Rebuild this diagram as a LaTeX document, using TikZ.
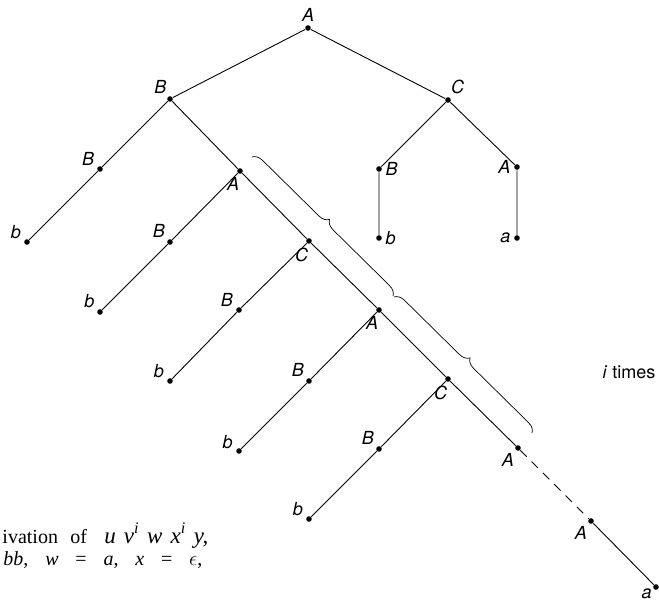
\documentclass[tikz,border=0pt]{standalone}
\usepackage{fontspec}
\setmainfont{TeX Gyre Heros}
\newfontfamily\capfont{Liberation Serif}
\usetikzlibrary{decorations.pathreplacing}
\tikzset{
 vtx/.style={circle,fill,inner sep=0pt,minimum size=5.6pt},
 lbl/.style={font=\fontsize{18}{20}\selectfont\itshape,inner sep=0pt,label distance=3pt},
 brc/.style={decorate,decoration={brace,amplitude=10pt}},
 captxt/.style={anchor=base west,inner sep=0pt,font=\capfont\fontsize{20}{23}\selectfont}
}
\begin{document}
\begin{tikzpicture}[x=1pt,y=-1pt,line width=0.9pt]
 \useasboundingbox (0,0) rectangle (659,602);
 \node[vtx,label={[lbl]90:A}] (A0) at (308,28) {};
 \node[vtx,label={[lbl]120:B}] (B0) at (170,99) {};
 \node[vtx,label={[lbl]65:C}] (C0) at (448,100) {};
 \node[vtx,label={[lbl]150:B}] (B1) at (100,169) {};
 \node[vtx,label={[lbl]155:b}] (b1) at (27,242) {};
 \node[vtx,label={[lbl]265:A}] (A1) at (240,171) {};
 \node[vtx,label={[lbl]140:B}] (B2) at (170,242) {};
 \node[vtx,label={[lbl]145:b}] (b2) at (100,312) {};
 \node[vtx,label={[lbl]265:C}] (C1) at (309,241) {};
 \node[vtx,label={[lbl]155:B}] (B3) at (239,310) {};
 \node[vtx,label={[lbl]155:b}] (b3) at (170,381) {};
 \node[vtx,label={[lbl]265:A}] (A2) at (379,310) {};
 \node[vtx,label={[lbl]140:B}] (B4) at (309,381) {};
 \node[vtx,label={[lbl]160:b}] (b4) at (239,451) {};
 \node[vtx,label={[lbl]265:C}] (C2) at (448,379) {};
 \node[vtx,label={[lbl]140:B}] (B5) at (379,449) {};
 \node[vtx,label={[lbl]155:b}] (b5) at (309,519) {};
 \node[vtx,label={[lbl]235:A}] (A3) at (518,448) {};
 \node[vtx,label={[lbl]235:A}] (A4) at (591,521) {};
 \node[vtx,label={[lbl,label distance=1pt]200:a}] (a4) at (656,587) {};
 \node[vtx,label={[lbl]0:B}] (Br) at (379,169) {};
 \node[vtx,label={[lbl]0:b}] (br) at (379,238) {};
 \node[vtx,label={[lbl]180:A}] (Ar) at (517,167) {};
 \node[vtx,label={[lbl]180:a}] (ar) at (517,238) {};
 \draw (A0)--(B0) (A0)--(C0);
 \draw (B0)--(B1)--(b1) (B0)--(A1);
 \draw (A1)--(B2)--(b2) (A1)--(C1);
 \draw (C1)--(B3)--(b3) (C1)--(A2);
 \draw (A2)--(B4)--(b4) (A2)--(C2);
 \draw (C2)--(B5)--(b5) (C2)--(A3);
 \draw[dash pattern=on 9pt off 7pt] (A3)--(A4);
 \draw (A4)--(a4);
 \draw (C0)--(Br)--(br) (C0)--(Ar)--(ar);
 \coordinate (br1s) at (252,157);
 \coordinate (br1e) at (393,296);
 \coordinate (br2s) at (394,297);
 \coordinate (br2e) at (532,433);
 \draw[brc,line width=0.7pt] (br1s)--(br1e);
 \draw[brc,line width=0.7pt] (br2s)--(br2e);
 \node[font=\fontsize{18}{20}\selectfont,inner sep=0pt] (times) at (629,372) {\textit{i} times};
 \node[captxt] (cap1) at (2,543) {\makebox[68pt][l]{ivation}\makebox[34pt][l]{of}\hbox to 104pt{\fontsize{23}{25}\selectfont\itshape u\hfill v\textsuperscript{i}\hfill w\hfill x\textsuperscript{i}\hfill y,}};
 \node[captxt] (cap2) at (3,565) {\hbox to 199pt{{\itshape bb},\hfill{\itshape w}\hfill=\hfill{\itshape a},\hfill{\itshape x}\hfill=\hfill$\epsilon$,}};
\end{tikzpicture}
\end{document}
